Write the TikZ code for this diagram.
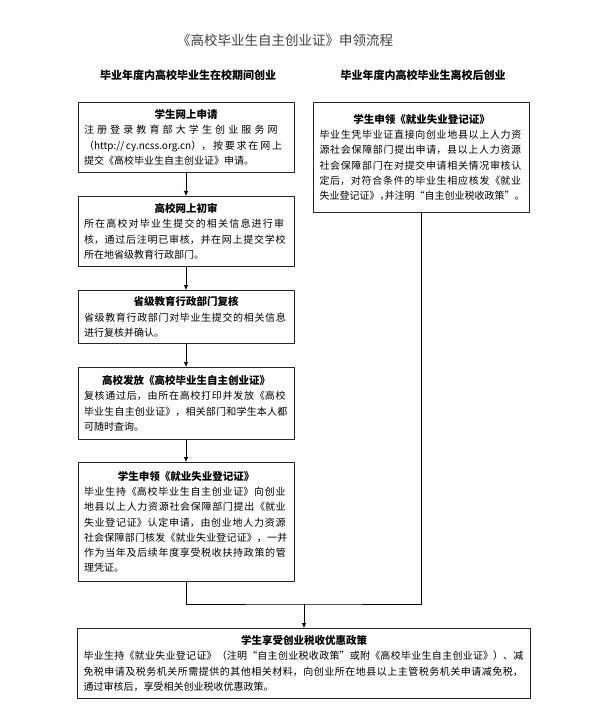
\documentclass[tikz,border=0pt]{standalone}
\usepackage{fontspec}
\setmainfont{Noto Sans CJK SC}
\usetikzlibrary{arrows.meta}
\XeTeXlinebreaklocale "zh"
\XeTeXlinebreakskip=0pt plus 6pt
\tolerance=10000
\newcommand{\boxhead}[1]{\noindent\makebox[\linewidth]{\fontsize{10.5}{15.3}\selectfont\bfseries #1}\par\noindent}
\newcommand{\halfp}[1]{\makebox[0.5em][l]{#1}}

\begin{document}
\begin{tikzpicture}[x=1pt,y=-1pt,
    stepbox/.style={draw=black!85,line width=0.8pt,anchor=north,
      text width=204pt,inner xsep=6pt,inner ysep=4pt,
      font=\fontsize{10}{15.3}\selectfont},
    colhead/.style={font=\fontsize{11}{13}\selectfont\bfseries},
    arr/.style={-{Latex[length=5pt,width=4.5pt]},line width=0.7pt}]
  \useasboundingbox (0,0) rectangle (593,727);
  \node[font=\fontsize{13.5}{16}\selectfont,text=black!75] (title) at (285,40)
    {《高校毕业生自主创业证》申领流程};
  \node[colhead] (headl) at (188,75) {毕业年度内高校毕业生在校期间创业};
  \node[colhead] (headr) at (423,75) {毕业年度内高校毕业生离校后创业};
  % left column
  \node[stepbox,minimum height=70pt] (l1) at (186,102) {\boxhead{学生网上申请}%
    注册登录教育部大学生创业服务网\linebreak
    （http://cy.ncss.org.cn），按要求在网上\linebreak
    提交《高校毕业生自主创业证》申请。};
  \node[stepbox,minimum height=70pt] (l2) at (186,196) {\boxhead{高校网上初审}%
    所在高校对毕业生提交的相关信息进行审\linebreak
    核，通过后注明已审核，并在网上提交学校\linebreak
    所在地省级教育行政部门。};
  \node[stepbox,minimum height=53pt] (l3) at (186,290) {\boxhead{省级教育行政部门复核}%
    省级教育行政部门对毕业生提交的相关信息\linebreak
    进行复核并确认。};
  \node[stepbox,minimum height=72pt] (l4) at (186,367) {\boxhead{高校发放《高校毕业生自主创业证》}%
    复核通过后，由所在高校打印并发放《高校\linebreak
    毕业生自主创业证》，相关部门和学生本人都\linebreak
    可随时查询。};
  \node[stepbox,minimum height=119pt] (l5) at (186,462) {\boxhead{学生申领《就业失业登记证》}%
    毕业生持《高校毕业生自主创业证》向创业\linebreak
    地县以上人力资源社会保障部门提出《就业\linebreak
    失业登记证》认定申请，由创业地人力资源\linebreak
    社会保障部门核发《就业失业登记证》，一并\linebreak
    作为当年及后续年度享受税收扶持政策的管\linebreak
    理凭证。};
  % right column
  \node[stepbox,minimum height=110pt] (r1) at (421.5,102) {\boxhead{学生申领《就业失业登记证》}%
    毕业生凭毕业证直接向创业地县以上人力资\linebreak
    源社会保障部门提出申请，县以上人力资源\linebreak
    社会保障部门在对提交申请相关情况审核认\linebreak
    定后，对符合条件的毕业生相应核发《就业\linebreak
    失业登记证》\halfp{，}并注明“自主创业税收政策”\halfp{。}\par\vspace{12pt}};
  % common end
  \node[stepbox,text width=441pt,minimum height=70pt] (fin) at (304,628) {\boxhead{学生享受创业税收优惠政策}%
    毕业生持《就业失业登记证》（注明“自主创业税收政策”或附《高校毕业生自主创业证》）、减\linebreak
    免税申请及税务机关所需提供的其他相关材料，向创业所在地县以上主管税务机关申请减免税，\linebreak
    通过审核后，享受相关创业税收优惠政策。};
  \coordinate (merge) at (304,604);
  \draw[arr] (l1) -- (l2);
  \draw[arr] (l2) -- (l3);
  \draw[arr] (l3) -- (l4);
  \draw[arr] (l4) -- (l5);
  \draw[line width=0.7pt] (l5.south) |- (merge) -| (r1.south);
  \draw[arr] (merge) -- (fin.north);
\end{tikzpicture}
\end{document}
